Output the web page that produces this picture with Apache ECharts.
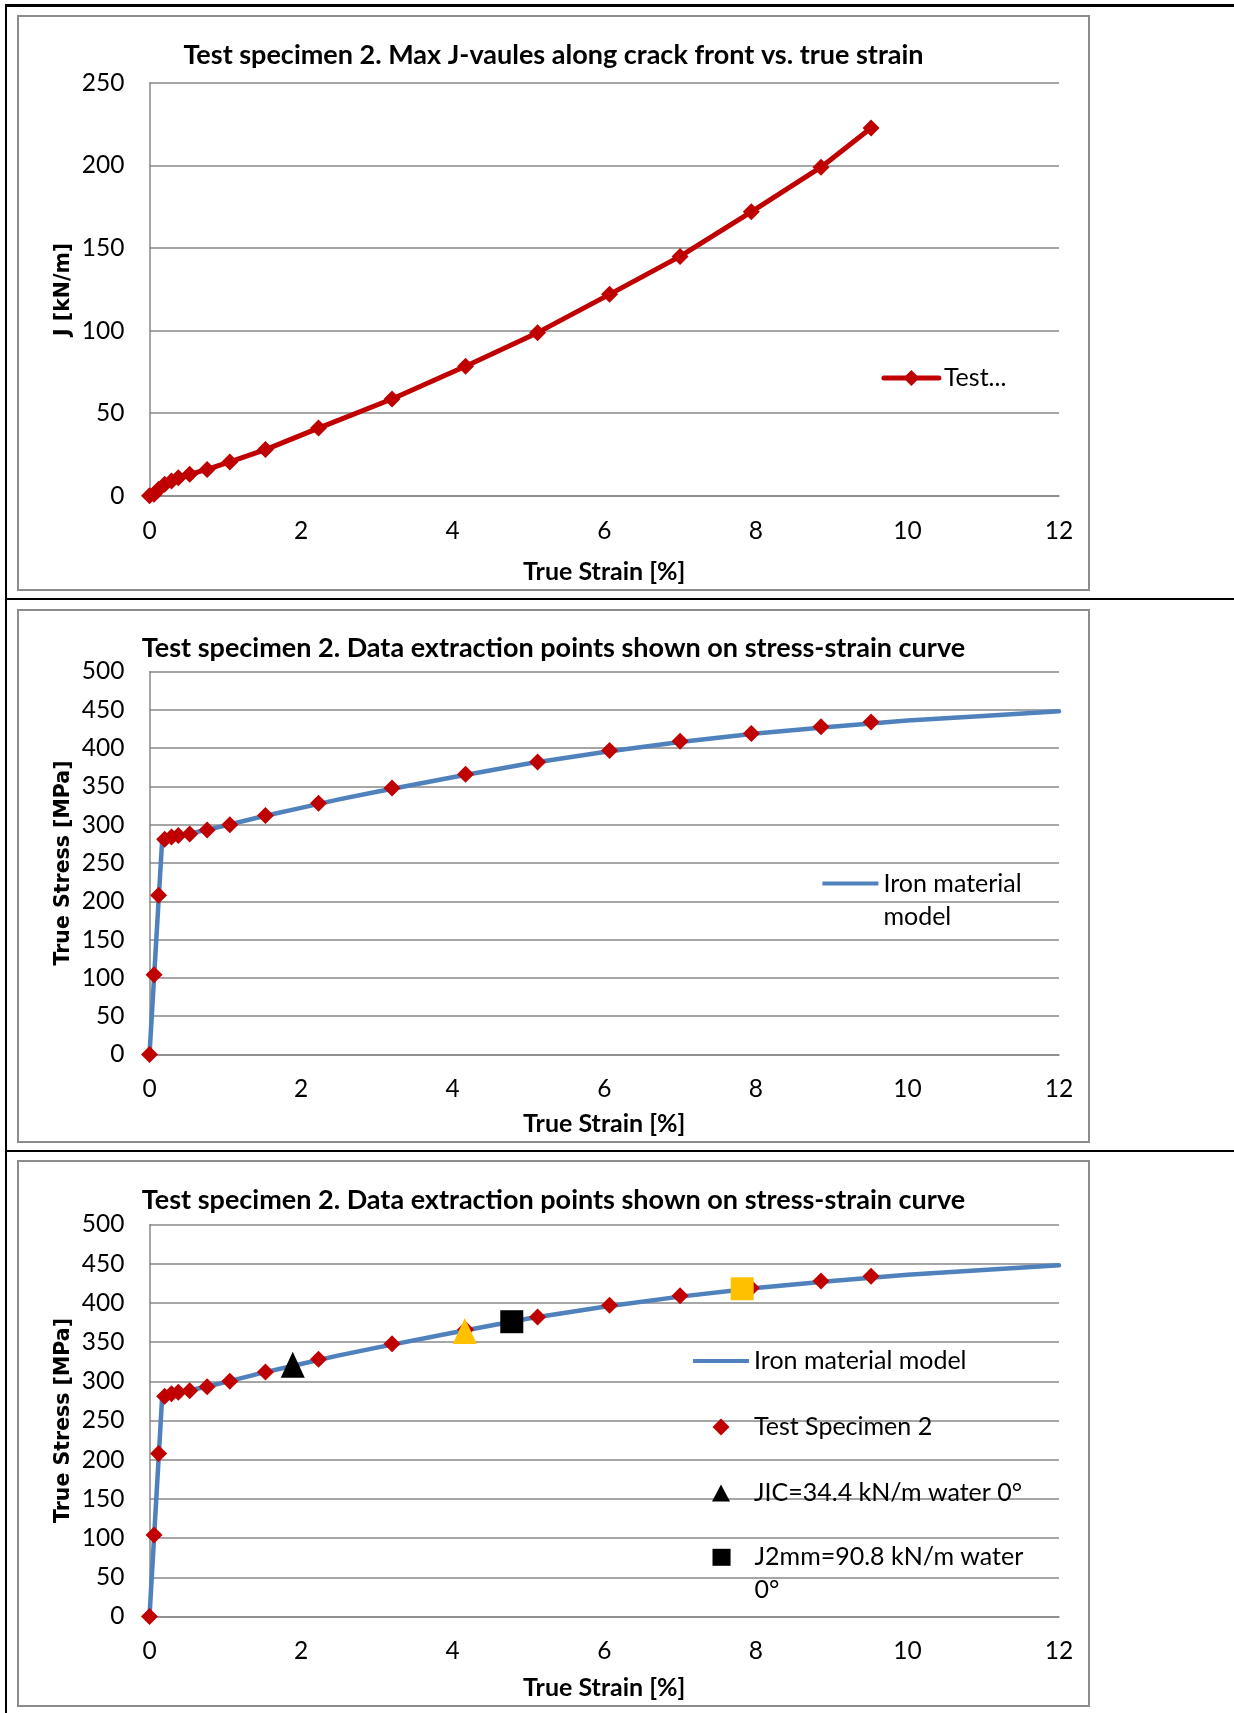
<!DOCTYPE html>
<html>
<head>
<meta charset="utf-8">
<title>Test specimen 2</title>
<script src="https://cdn.jsdelivr.net/npm/echarts@6/dist/echarts.min.js"></script>
<style>
  html, body { margin: 0; padding: 0; background: #fff; }
  body { width: 1234px; height: 1713px; position: relative; overflow: hidden; }
  .rule { position: absolute; background: #000; }
  .frame { position: absolute; box-sizing: border-box; border: 2px solid #8c8c8c; }
  .chart { position: absolute; }
</style>
</head>
<body>
<!-- table rules -->
<div class="rule" style="left:5px;top:4px;width:1229px;height:3px"></div>
<div class="rule" style="left:5px;top:4px;width:2px;height:1709px"></div>
<div class="rule" style="left:5px;top:598px;width:1229px;height:2px"></div>
<div class="rule" style="left:5px;top:1150px;width:1229px;height:2px"></div>

<!-- chart frames -->
<div class="frame" style="left:17px;top:15px;width:1073px;height:576px"></div>
<div class="frame" style="left:17px;top:609px;width:1073px;height:534px"></div>
<div class="frame" style="left:17px;top:1160px;width:1073px;height:547px"></div>

<div id="chartJ" class="chart" style="left:17px;top:15px;width:1073px;height:576px"></div>
<div id="chartModel" class="chart" style="left:17px;top:609px;width:1073px;height:534px"></div>
<div id="chartPoints" class="chart" style="left:17px;top:1160px;width:1073px;height:547px"></div>

<script>
// Data extraction points of test specimen 2 (true strain in %)
const strainPct = [0, 0.06, 0.12, 0.2, 0.29, 0.38, 0.53, 0.76, 1.06, 1.53, 2.23, 3.2, 4.17, 5.12, 6.07, 7.0, 7.94, 8.86, 9.52];
// Max J along the crack front [kN/m] at each extraction point
const jValues = [0, 1, 4, 7, 9, 11, 13, 16, 20.5, 28, 41, 58.6, 78.5, 98.8, 122, 145, 172, 199, 222.8];
// True stress [MPa] at each extraction point
const specimenStress = [0, 104, 208, 281, 284, 286, 288, 293, 300, 312, 328, 348, 366, 382, 397, 409, 419, 428, 434];

// Iron material model (true stress-strain curve)
const modelStrain = [0, 0.167, 0.3, 0.5, 0.75, 1, 1.5, 2, 2.5, 3, 4, 5, 6, 7, 8, 9, 10, 11, 12];
const modelStress = [0, 280, 284, 288, 293, 299, 311, 322, 333, 343, 362, 380, 395, 408, 419, 428, 436, 442, 448];

// Fracture toughness points [strain %, stress MPa]
const jicWater = [1.89, 321];
const jicSecond = [4.16, 364];
const j2mmWater = [4.78, 376];
const j2mmSecond = [7.82, 418];

// Axis ticks
const strainTicks = { min: 0, max: 12, interval: 2 };
const jTicks = { min: 0, max: 250, interval: 50 };
const stressTicks = { min: 0, max: 500, interval: 50 };

const RED = '#C00000';
const BLUE = '#4F81BD';
const GOLD = '#FFC000';
const GRID_GRAY = '#898989';
const FONT = 'Lato';
const NAME_FONT = 'DejaVu Sans';

// Legend glyphs (kept at their own aspect inside the legend item box)
const ICON_LINE = 'path://M0,0H56V4H0Z';
const ICON_DIAMOND = 'path://M8.5,0L17,8.5L8.5,17L0,8.5Z';
const ICON_TRIANGLE = 'path://M8.5,0L17,16H0Z';
const ICON_SQUARE = 'path://M0,0H17V16H0Z';

const pairs = (xs, ys) => xs.map((x, i) => [x, ys[i]]);

function titleOpt(text, centerY) {
  return {
    text: text,
    left: 'center',
    top: centerY - 16,
    padding: 0,
    textStyle: { fontFamily: FONT, fontWeight: 'bold', fontSize: 27, lineHeight: 32, color: '#000' }
  };
}

function xAxisOpt(nameGap) {
  return {
    type: 'value',
    min: strainTicks.min, max: strainTicks.max, interval: strainTicks.interval,
    name: 'True Strain [%]',
    nameLocation: 'middle',
    nameGap: nameGap,
    nameMoveOverlap: false,
    nameTextStyle: { fontFamily: FONT, fontWeight: 'bold', fontSize: 25, lineHeight: 24, color: '#000' },
    axisLine: { show: true, lineStyle: { color: GRID_GRAY, width: 1.5 } },
    axisTick: { show: false },
    splitLine: { show: false },
    axisLabel: { margin: 23, fontFamily: FONT, fontSize: 24.5, lineHeight: 24, color: '#000' }
  };
}

function yAxisOpt(name, ticks) {
  return {
    type: 'value',
    min: ticks.min, max: ticks.max, interval: ticks.interval,
    name: name,
    nameLocation: 'middle',
    nameGap: 74,
    nameMoveOverlap: false,
    nameTextStyle: { fontFamily: NAME_FONT, fontWeight: 'bold', fontSize: 20.5, lineHeight: 24, color: '#000' },
    axisLine: { show: true, lineStyle: { color: GRID_GRAY, width: 1.5 } },
    axisTick: { show: false },
    splitLine: { show: true, lineStyle: { color: GRID_GRAY, width: 1.5 } },
    axisLabel: { margin: 25, fontFamily: FONT, fontSize: 24.5, lineHeight: 24, color: '#000' }
  };
}

function gridOpt(top, height) {
  return { left: 132.5, top: top, width: 909.5, height: height, containLabel: false, outerBoundsMode: 'none' };
}

const legendText = { fontFamily: FONT, fontSize: 25, color: '#000' };

function modelSeries() {
  return {
    type: 'line',
    name: 'Iron material model',
    data: pairs(modelStrain, modelStress),
    symbol: 'none',
    lineStyle: { color: BLUE, width: 4.5, join: 'round', cap: 'round' },
    itemStyle: { color: BLUE },
    clip: false,
    z: 2
  };
}

function specimenSeries() {
  return {
    type: 'scatter',
    name: 'Test Specimen 2',
    data: pairs(strainPct, specimenStress),
    symbol: 'diamond',
    symbolSize: 17,
    itemStyle: { color: RED, opacity: 1 },
    z: 3
  };
}

// Chart 1: J versus true strain
const chartJ = echarts.init(document.getElementById('chartJ'), null, { renderer: 'canvas' });
chartJ.setOption({
  animation: false,
  title: titleOpt('Test specimen 2. Max J-vaules along crack front vs. true strain', 40.5),
  grid: gridOpt(68, 412.8),
  xAxis: xAxisOpt(64),
  yAxis: yAxisOpt('J [kN/m]', jTicks),
  legend: {
    orient: 'vertical',
    left: 864.4,
    top: 350.6,
    padding: 0,
    itemWidth: 55,
    itemHeight: 20,
    selectedMode: false,
    textStyle: Object.assign({ lineHeight: 22 }, legendText),
    itemStyle: { borderWidth: 0 },
    lineStyle: { width: 5 },
    formatter: name => name.slice(0, 4) + '...',
    data: ['Test Specimen 2']
  },
  series: [{
    type: 'line',
    name: 'Test Specimen 2',
    data: pairs(strainPct, jValues),
    symbol: 'diamond',
    symbolSize: 17,
    showAllSymbol: true,
    lineStyle: { color: RED, width: 5, join: 'round', cap: 'round' },
    itemStyle: { color: RED },
    clip: false
  }]
});

// Chart 2: extraction points on the stress-strain curve
const chartModel = echarts.init(document.getElementById('chartModel'), null, { renderer: 'canvas' });
chartModel.setOption({
  animation: false,
  title: titleOpt('Test specimen 2. Data extraction points shown on stress-strain curve', 39),
  grid: gridOpt(62.5, 383),
  xAxis: xAxisOpt(57.5),
  yAxis: yAxisOpt('True Stress [MPa]', stressTicks),
  legend: {
    orient: 'vertical',
    left: 805.4,
    top: 274.6 - 49.5,
    padding: 0,
    itemWidth: 56,
    itemHeight: 14,
    selectedMode: false,
    textStyle: Object.assign({ lineHeight: 33 }, legendText),
    itemStyle: { borderWidth: 0 },
    formatter: () => ' \nIron material\nmodel',
    data: [{ name: 'Iron material model', icon: ICON_LINE }]
  },
  series: [modelSeries(), specimenSeries()]
});

// Chart 3: extraction points with fracture toughness markers
const chartPoints = echarts.init(document.getElementById('chartPoints'), null, { renderer: 'canvas' });
chartPoints.setOption({
  animation: false,
  title: titleOpt('Test specimen 2. Data extraction points shown on stress-strain curve', 40),
  grid: gridOpt(64.5, 392),
  xAxis: xAxisOpt(59.5),
  yAxis: yAxisOpt('True Stress [MPa]', stressTicks),
  legend: [{
    orient: 'vertical',
    left: 676,
    top: 201 - 15.5,
    padding: 0,
    itemWidth: 56,
    itemHeight: 17,
    itemGap: 35,
    selectedMode: false,
    textStyle: Object.assign({ lineHeight: 31 }, legendText),
    itemStyle: { borderWidth: 0, opacity: 1 },
    data: [
      { name: 'Iron material model', icon: ICON_LINE },
      { name: 'Test Specimen 2', icon: ICON_DIAMOND },
      { name: 'JIC=34.4 kN/m water 0°', icon: ICON_TRIANGLE }
    ]
  }, {
    orient: 'vertical',
    // the square sits centred in the 56px item box, so the box starts 19.5px further in
    left: 676 + 19.5,
    top: 397.3 - 49.5,
    padding: 0,
    itemWidth: 56,
    itemHeight: 17,
    selectedMode: false,
    textStyle: Object.assign({ lineHeight: 33 }, legendText),
    itemStyle: { borderWidth: 0, opacity: 1 },
    formatter: () => ' \nJ2mm=90.8 kN/m water\n0°',
    data: [{ name: 'J2mm=90.8 kN/m water 0°', icon: ICON_SQUARE }]
  }],
  series: [
    modelSeries(),
    specimenSeries(),
    {
      type: 'scatter', name: 'JIC=34.4 kN/m water 0°', data: [jicWater],
      symbol: 'triangle', symbolSize: [24, 26], itemStyle: { color: '#000', opacity: 1 }, z: 4
    },
    {
      type: 'scatter', name: 'JIC second point', data: [jicSecond],
      symbol: 'triangle', symbolSize: [24, 26], itemStyle: { color: GOLD, opacity: 1 }, z: 4
    },
    {
      type: 'scatter', name: 'J2mm=90.8 kN/m water 0°', data: [j2mmWater],
      symbol: 'rect', symbolSize: 23, itemStyle: { color: '#000', opacity: 1 }, z: 4
    },
    {
      type: 'scatter', name: 'J2mm second point', data: [j2mmSecond],
      symbol: 'rect', symbolSize: 23, itemStyle: { color: GOLD, opacity: 1 }, z: 4
    }
  ]
});
</script>
</body>
</html>
